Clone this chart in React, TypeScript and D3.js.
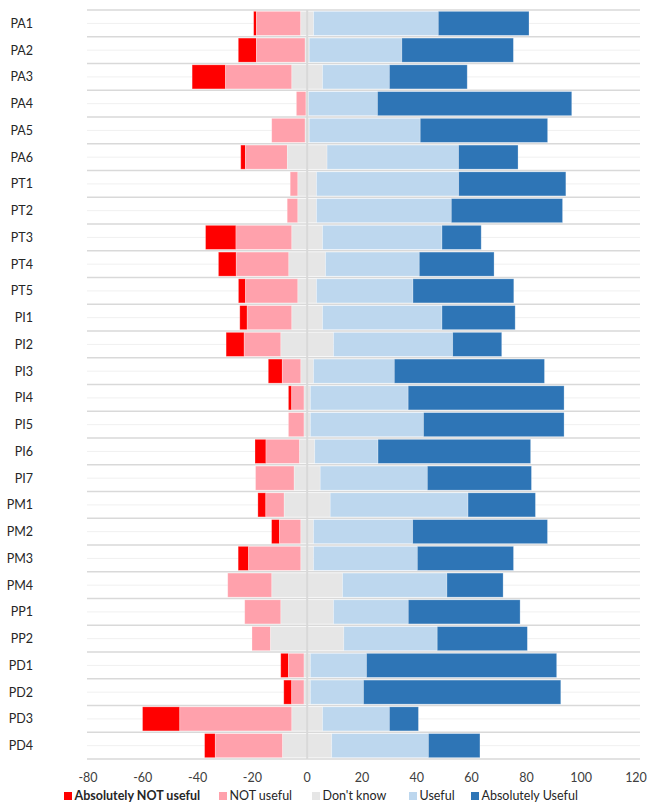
import React from "react";
import * as d3 from "d3";

const categories = ["PA1","PA2","PA3","PA4","PA5","PA6","PT1","PT2","PT3","PT4","PT5","PI1","PI2","PI3","PI4","PI5","PI6","PI7","PM1","PM2","PM3","PM4","PP1","PP2","PD1","PD2","PD3","PD4"];
const absNotUseful = [1.0,6.6,12.2,0,0,1.7,0,0,11.1,6.5,2.6,2.7,6.6,5.1,1.2,0,4.0,0,2.9,2.9,3.8,0,0,0,2.8,2.9,13.6,3.9];
const notUseful = [16.2,17.8,24.2,3.5,12.2,15.3,2.8,3.9,20.4,19.2,19.1,16.3,13.4,6.8,4.5,5.7,12.3,14.1,6.7,7.8,19.1,16.1,13.2,6.8,5.7,4.5,40.9,24.6];
const dontKnow = [4.7,1.5,11.2,0.9,1.5,14.5,6.8,6.8,11.2,13.4,6.8,11.2,19.2,4.6,2.3,2.3,5.5,9.5,16.8,4.6,4.6,25.8,19.2,26.7,2.3,2.3,11.2,17.9];
const useful = [45.5,33.8,24.4,25.2,40.5,48.0,51.9,49.2,43.6,34.2,35.2,43.6,43.5,29.5,35.7,41.3,23.1,39.1,50.3,36.2,37.9,38.1,27.3,34.1,20.5,19.4,24.4,35.3];
const absUseful = [33.1,40.7,28.4,70.9,46.5,21.7,39.1,40.6,14.3,27.3,36.8,26.7,17.9,54.8,56.9,51.3,55.7,38.0,24.6,49.2,35.1,20.5,40.8,32.9,69.4,72.0,10.6,18.8];
const xTicks = [-80,-60,-40,-20,0,20,40,60,80,100,120];
const seriesNames = ["Absolutely NOT useful","NOT useful","Don't know","Useful","Absolutely Useful"];
const seriesColors = ["#ff0000","#ffa1ac","#e6e6e6","#bdd7ee","#2e75b6"];

const W = 648, H = 804;
const FONT = "Lato, 'Open Sans', sans-serif";

export default function App() {
  const x = d3.scaleLinear().domain([-80, 120]).range([88, 636]);
  const y = d3.scaleBand<string>().domain(categories).range([10, 759]).paddingInner(0.1).paddingOuter(0.05);
  const step = y.step();

  const segs: { cat: string; i: number; x0: number; x1: number }[] = [];
  categories.forEach((c, k) => {
    const half = dontKnow[k] / 2;
    const stacks = [
      [-half - notUseful[k] - absNotUseful[k], -half - notUseful[k]],
      [-half - notUseful[k], -half],
      [-half, half],
      [half, half + useful[k]],
      [half + useful[k], half + useful[k] + absUseful[k]],
    ];
    stacks.forEach(([a, b], i) => {
      if (b - a > 0) segs.push({ cat: c, i, x0: a, x1: b });
    });
  });

  const boundaries = d3.range(categories.length + 1).map((i) => 10 + i * step);
  const legendX = [64, 219, 312, 409, 471];

  return (
    <svg width={W} height={H} style={{ position: "absolute", left: 0, top: 0, background: "#fff" }} fontFamily={FONT}>
      <rect width={W} height={H} fill="#fff" />
      {categories.map((c) => (
        <line key={"m" + c} x1={87} x2={640} y1={y(c)! + y.bandwidth() / 2} y2={y(c)! + y.bandwidth() / 2} stroke="#f0f0f0" strokeWidth={1} />
      ))}
      {boundaries.map((b, i) => (
        <line key={"b" + i} x1={87} x2={640} y1={b} y2={b} stroke="#d9d9d9" strokeWidth={1.5} />
      ))}
      {segs.map((s, k) => (
        <rect key={k} x={x(s.x0)} y={y(s.cat)!} width={x(s.x1) - x(s.x0)} height={y.bandwidth()} fill={seriesColors[s.i]} stroke="#ffffff" strokeOpacity={0.35} strokeWidth={0.75} />
      ))}
      <line x1={x(0)} x2={x(0)} y1={10} y2={759} stroke="#d9d9d9" strokeWidth={2} />
      {categories.map((c) => (
        <text key={"l" + c} x={33} y={y(c)! + y.bandwidth() / 2} dy="0.35em" textAnchor="end" fontSize={12.5} fill="#262626">{c}</text>
      ))}
      {xTicks.map((t) => (
        <text key={"t" + t} x={x(t)} y={778} dy="0.35em" textAnchor="middle" fontSize={12.5} fill="#404040">{t}</text>
      ))}
      {seriesNames.map((n, i) => (
        <g key={"lg" + i}>
          <rect x={legendX[i]} y={792} width={8} height={8} fill={seriesColors[i]} />
          <text x={legendX[i] + 10.5} y={796} dy="0.35em" fontSize={12.5} fontWeight={i === 0 ? "bold" : "normal"} fill="#262626">{n}</text>
        </g>
      ))}
    </svg>
  );
}
